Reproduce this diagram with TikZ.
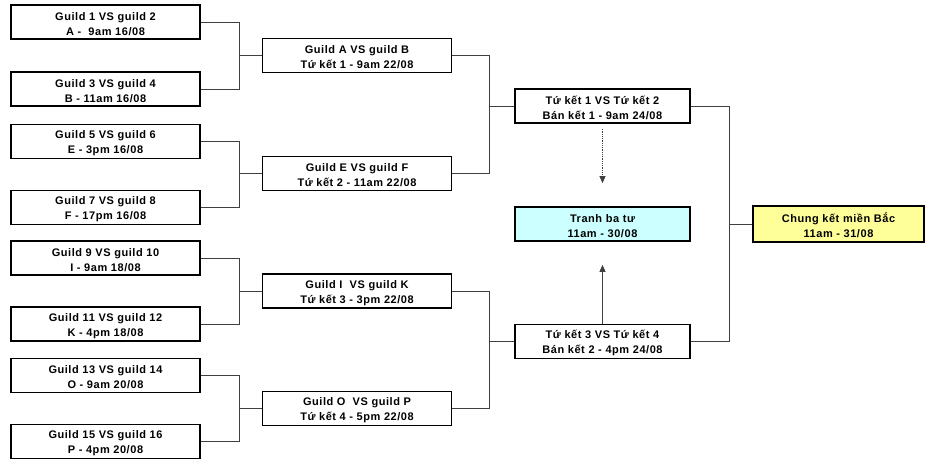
\documentclass[tikz,border=0pt]{standalone}
\usepackage{fontspec}
\setmainfont[LetterSpace=5]{Liberation Sans}
\usetikzlibrary{arrows.meta}
\definecolor{cyanfill}{HTML}{CCFFFF}
\definecolor{yellowfill}{HTML}{FFFF99}
\definecolor{linegray}{HTML}{404040}
\newcommand\lowertext{\rule{0pt}{12pt}}
\tikzset{
  box/.style={draw=black, line width=1.7pt, fill=white, minimum height=34pt, inner sep=0pt,
    align=center, font=\fontsize{11pt}{15pt}\selectfont\bfseries},
  lbox/.style={box, minimum width=189pt},
  mbox/.style={box, minimum width=189pt},
  sbox/.style={box, minimum width=175pt},
  fbox/.style={box, minimum width=171pt, minimum height=36pt},
  conn/.style={draw=linegray, line width=0.8pt},
  tip/.style={-{Triangle[length=7pt,width=6pt]}}
}
\begin{document}
\begin{tikzpicture}[x=1pt,y=-1pt]
\useasboundingbox (0,0) rectangle (934,469);
% first round
\node[lbox] (b1) at (105.5,22)    {\lowertext Guild 1 VS guild 2\\A - \ 9am 16/08};
\node[lbox] (b2) at (105.5,89)    {\lowertext Guild 3 VS guild 4\\B - 11am 16/08};
\node[lbox] (b3) at (105.5,141.5) {\lowertext Guild 5 VS guild 6\\E - 3pm 16/08};
\node[lbox] (b4) at (105.5,207.5) {\lowertext Guild 7 VS guild 8\\F - 17pm 16/08};
\node[lbox] (b5) at (105.5,258)   {\lowertext Guild 9 VS guild 10\\I - 9am 18/08};
\node[lbox] (b6) at (105.5,324)   {\lowertext Guild 11 VS guild 12\\K - 4pm 18/08};
\node[lbox] (b7) at (105.5,375.5) {\lowertext Guild 13 VS guild 14\\O - 9am 20/08};
\node[lbox] (b8) at (105.5,441.5) {\lowertext Guild 15 VS guild 16\\P - 4pm 20/08};
% quarter finals
\node[mbox] (c1) at (357,55.5)  {\lowertext Guild A VS guild B\\Tứ kết 1 - 9am 22/08};
\node[mbox] (c2) at (357,173.5) {\lowertext Guild E VS guild F\\Tứ kết 2 - 11am 22/08};
\node[mbox] (c3) at (357,291)   {\lowertext Guild I \ VS guild K\\Tứ kết 3 - 3pm 22/08};
\node[mbox] (c4) at (357,408.5) {\lowertext Guild O \ VS guild P\\Tứ kết 4 - 5pm 22/08};
% semi finals
\node[sbox] (s1) at (602.5,106)   {\lowertext Tứ kết 1 VS Tứ kết 2\\Bán kết 1 - 9am 24/08};
\node[sbox, fill=cyanfill] (t) at (602.5,224) {\lowertext Tranh ba tư\\11am - 30/08};
\node[sbox] (s2) at (602.5,341.5) {\lowertext Tứ kết 3 VS Tứ kết 4\\Bán kết 2 - 4pm 24/08};
% final
\node[fbox, fill=yellowfill] (f) at (838.5,224) {\lowertext Chung kết miền Bắc\\11am - 31/08};
% junction columns
\coordinate (J1) at (239,0);
\coordinate (J2) at (489,0);
\coordinate (J3) at (729,0);
% connectors round 1
\draw[conn] (b1.east) -- (b1.east -| J1) |- (b2.east);
\draw[conn] (c1.west) -- (c1.west -| J1);
\draw[conn] (b3.east) -- (b3.east -| J1) |- (b4.east);
\draw[conn] (c2.west) -- (c2.west -| J1);
\draw[conn] (b5.east) -- (b5.east -| J1) |- (b6.east);
\draw[conn] (c3.west) -- (c3.west -| J1);
\draw[conn] (b7.east) -- (b7.east -| J1) |- (b8.east);
\draw[conn] (c4.west) -- (c4.west -| J1);
% connectors quarter finals
\draw[conn] (c1.east) -- (c1.east -| J2) |- (c2.east);
\draw[conn] (s1.west) -- (s1.west -| J2);
\draw[conn] (c3.east) -- (c3.east -| J2) |- (c4.east);
\draw[conn] (s2.west) -- (s2.west -| J2);
% connectors semi finals
\draw[conn] (s1.east) -- (s1.east -| J3) |- (s2.east);
\draw[conn] (f.west) -- (f.west -| J3);
% arrows to third place match
\draw[conn, tip, densely dotted, shorten <=5pt, shorten >=23pt] (s1.south) -- (t.north);
\draw[conn, tip, shorten >=23pt] (s2.north) -- (t.south);
\end{tikzpicture}
\end{document}
